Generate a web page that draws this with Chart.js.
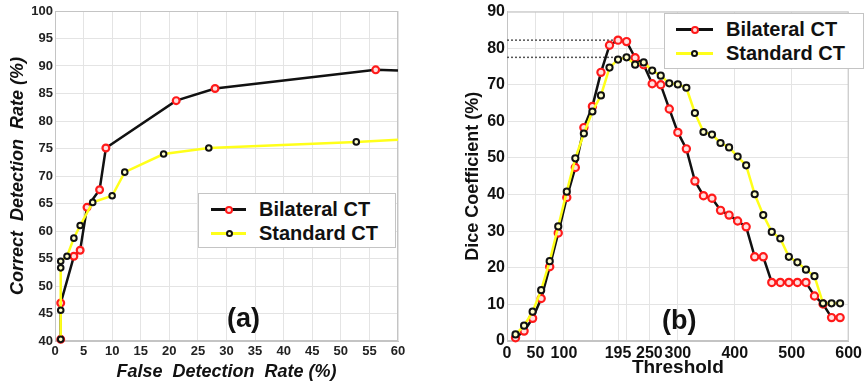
<!DOCTYPE html>
<html>
<head>
<meta charset="utf-8">
<script src="https://cdn.jsdelivr.net/npm/chart.js@4"></script>
<style>
  body { margin: 0; background: #fff; font-family: "Liberation Sans", Arial, sans-serif; }
  #wrap { position: relative; width: 865px; height: 386px; overflow: hidden; }
  canvas { position: absolute; top: 0; }
  #chartA { left: 0; }
  #chartB { left: 430px; }
  .legend { position: absolute; background: #fff; border: 1px solid #c4c4c4; box-sizing: border-box; }
  .item { position: absolute; height: 24px; line-height: 24px; font-size: 20px; font-weight: bold; color: #111; white-space: nowrap; }
  .sample { position: absolute; height: 3px; }
  .dot { position: absolute; border-radius: 50%; box-sizing: border-box; }
  .tag { position: absolute; font-weight: bold; color: #111; line-height: 1; }
</style>
</head>
<body>
<div id="wrap">
  <canvas id="chartA" width="430" height="386"></canvas>
  <canvas id="chartB" width="435" height="386"></canvas>

  <div class="legend" style="left:198px;top:193px;width:198px;height:55px">
    <div class="sample" style="left:12px;top:14px;width:35px;background:#111"></div>
    <div class="dot" style="left:26px;top:11.5px;width:8px;height:8px;border:2px solid #ff1a1a;background:#ffe0e0"></div>
    <div class="item" style="left:60px;top:3px">Bilateral CT</div>
    <div class="sample" style="left:12px;top:38px;width:35px;background:#ffff1a"></div>
    <div class="dot" style="left:26.5px;top:36px;width:7px;height:7px;border:2px solid #111;background:#ffffcc"></div>
    <div class="item" style="left:60px;top:27px">Standard CT</div>
  </div>
  <div class="tag" style="left:227px;top:305px;font-size:27px">(a)</div>

  <div class="legend" style="left:664px;top:13px;width:200px;height:56px">
    <div class="sample" style="left:11px;top:14px;width:37px;background:#111"></div>
    <div class="dot" style="left:25.5px;top:11.5px;width:8px;height:8px;border:2px solid #ff1a1a;background:#ffe0e0"></div>
    <div class="item" style="left:61px;top:3px">Bilateral CT</div>
    <div class="sample" style="left:11px;top:38px;width:37px;background:#ffff1a"></div>
    <div class="dot" style="left:26px;top:36px;width:7px;height:7px;border:2px solid #111;background:#ffffcc"></div>
    <div class="item" style="left:61px;top:27px">Standard CT</div>
  </div>
  <div class="tag" style="left:662px;top:307px;font-size:27px">(b)</div>
</div>

<script>
// (a) correct detection rate against false detection rate
const bilateralFalseRate = [1, 1, 3.3, 4.4, 5.6, 7.8, 8.9, 21.2, 28.0, 56.1, 60];
const bilateralCorrectRate = [40.3, 46.9, 55.4, 56.5, 64.3, 67.5, 75.1, 83.7, 85.9, 89.3, 89.2];
const standardFalseRate = [1, 1, 1, 1, 2.1, 3.3, 4.4, 6.6, 10.0, 12.2, 19.0, 26.9, 52.7, 60];
const standardCorrectRate = [40.3, 45.6, 53.3, 54.5, 55.4, 58.7, 61.0, 65.2, 66.4, 70.7, 74.0, 75.1, 76.2, 76.6];

// (b) dice coefficient against threshold
const thresholds = [15, 30, 45, 60, 75, 90, 105, 120, 135, 150, 165, 180, 195, 210, 225, 240, 255, 270, 285, 300,
                    315, 330, 345, 360, 375, 390, 405, 420, 435, 450, 465, 480, 495, 510, 525, 540, 555, 570, 585];
const bilateralDice = [0.9, 2.7, 6.2, 11.6, 20.3, 29.5, 39.2, 47.4, 58.3, 64.1, 73.4, 80.8, 82.2, 81.8, 77.4, 75.5, 70.3, 70.0, 63.4, 57.0,
                       52.5, 43.7, 39.7, 39.0, 35.7, 34.4, 32.8, 31.2, 23.0, 23.0, 16.0, 16.0, 16.0, 16.0, 16.0, 12.3, 10.1, 6.4, 6.4];
const standardDice = [1.8, 4.2, 8.0, 13.9, 21.8, 31.3, 40.8, 49.9, 56.7, 62.7, 67.1, 74.7, 76.9, 77.5, 75.5, 76.1, 73.9, 72.5, 70.4, 70.1,
                      69.2, 62.3, 57.1, 56.4, 54.1, 52.9, 50.4, 48.0, 40.1, 34.4, 29.8, 28.0, 23.0, 21.5, 19.5, 17.7, 10.3, 10.3, 10.3];
const thresholdTicks = [0, 50, 100, 150, 195, 210, 250, 300, 400, 500, 600];
const hiddenThresholdLabels = [150, 210];

const FONT = '"Liberation Sans", Arial, sans-serif';
const GRID = '#e4e4e4';
const FRAME = '#c4c4c4';

const toPoints = (xs, ys) => xs.map((x, i) => ({ x: x, y: ys[i] }));

// light box round the plot area, like the matlab axes
const plotFrame = {
    id: 'plotFrame',
    beforeDatasetsDraw(chart) {
        const { ctx, chartArea: a } = chart;
        ctx.save();
        ctx.strokeStyle = FRAME;
        ctx.lineWidth = 1;
        ctx.strokeRect(a.left + 0.5, a.top + 0.5, a.right - a.left - 1, a.bottom - a.top - 1);
        ctx.restore();
    }
};

const bilateralStyle = {
    borderColor: '#111', borderWidth: 2.5,
    pointBorderColor: '#ff1a1a', pointBackgroundColor: '#ffe0e0', pointBorderWidth: 2.2,
    pointRadius: 3.4, clip: false, order: 2
};
const standardStyle = {
    borderColor: '#ffff1a', borderWidth: 2.5,
    pointBorderColor: '#111', pointBackgroundColor: '#ffffcc', pointBorderWidth: 2,
    pointRadius: 3, clip: false, order: 1
};

// the curves run on past 60%, so no marker on the edge point
const edgeRadius = r => ctx => (ctx.raw && ctx.raw.x >= 60 ? 0 : r);

new Chart(document.getElementById('chartA'), {
    type: 'line',
    data: {
        datasets: [
            { ...bilateralStyle, label: 'Bilateral CT', data: toPoints(bilateralFalseRate, bilateralCorrectRate), pointRadius: edgeRadius(3.4) },
            { ...standardStyle, label: 'Standard CT', data: toPoints(standardFalseRate, standardCorrectRate), pointRadius: edgeRadius(2.8) }
        ]
    },
    options: {
        responsive: false,
        animation: false,
        layout: { padding: { top: 11, right: 32, left: 0, bottom: 0 } },
        plugins: { legend: { display: false }, tooltip: { enabled: false } },
        scales: {
            x: {
                type: 'linear', min: 0, max: 60,
                ticks: { stepSize: 5, padding: 3, maxRotation: 0, color: '#222', font: { family: FONT, size: 13, weight: 'bold' } },
                grid: { color: GRID, drawTicks: false },
                border: { color: FRAME },
                title: { display: true, text: 'False  Detection  Rate (%)', color: '#111',
                         font: { family: FONT, size: 18, weight: 'bold', style: 'italic' }, padding: { top: 0, bottom: 3 } },
                afterFit: s => { s.height = 45; }
            },
            y: {
                min: 40, max: 100,
                ticks: { stepSize: 5, padding: 2, color: '#222', font: { family: FONT, size: 13, weight: 'bold' } },
                grid: { color: GRID, drawTicks: false },
                border: { color: FRAME },
                title: { display: true, text: 'Correct  Detection  Rate (%)', color: '#111',
                         font: { family: FONT, size: 18, weight: 'bold', style: 'italic' }, padding: { top: 7, bottom: 0 } },
                afterFit: s => { s.width = 55; }
            }
        }
    },
    plugins: [plotFrame]
});

// peaks marked with dotted guides back to the axis
const bilPeak = Math.max(...bilateralDice);
const stdPeak = Math.max(...standardDice);
const bilPeakAt = thresholds[bilateralDice.indexOf(bilPeak)];
const stdPeakAt = thresholds[standardDice.indexOf(stdPeak)];
const guide = { borderColor: '#555', borderWidth: 1.5, borderDash: [2, 2], pointRadius: 0, order: 3 };

new Chart(document.getElementById('chartB'), {
    type: 'line',
    data: {
        datasets: [
            { ...guide, data: [{ x: 0, y: bilPeak }, { x: bilPeakAt, y: bilPeak }] },
            { ...guide, data: [{ x: 0, y: stdPeak }, { x: stdPeakAt, y: stdPeak }] },
            { ...bilateralStyle, label: 'Bilateral CT', data: toPoints(thresholds, bilateralDice), pointRadius: 3.6 },
            { ...standardStyle, label: 'Standard CT', data: toPoints(thresholds, standardDice), pointRadius: 3.1 }
        ]
    },
    options: {
        responsive: false,
        animation: false,
        layout: { padding: { top: 11, right: 14, left: 0, bottom: 0 } },
        plugins: { legend: { display: false }, tooltip: { enabled: false } },
        scales: {
            x: {
                type: 'linear', min: 0, max: 600,
                afterBuildTicks: s => { s.ticks = thresholdTicks.map(v => ({ value: v })); },
                ticks: { autoSkip: false, padding: 3, maxRotation: 0, color: '#111',
                         font: { family: FONT, size: 16, weight: 'bold' },
                         callback: v => (hiddenThresholdLabels.includes(v) ? '' : v) },
                grid: { color: GRID, drawTicks: false },
                border: { color: FRAME },
                title: { display: true, text: 'Threshold', color: '#111',
                         font: { family: FONT, size: 19, weight: 'bold' }, padding: { top: 0, bottom: 7 } },
                afterFit: s => { s.height = 45; }
            },
            y: {
                min: 0, max: 90,
                ticks: { stepSize: 10, padding: 2, color: '#111', font: { family: FONT, size: 16, weight: 'bold' } },
                grid: { color: GRID, drawTicks: false },
                border: { color: FRAME },
                title: { display: true, text: 'Dice Coefficient (%)', color: '#111',
                         font: { family: FONT, size: 18, weight: 'bold' }, padding: { top: 32, bottom: 0 } },
                afterFit: s => { s.width = 77; }
            }
        }
    },
    plugins: [plotFrame]
});
</script>
</body>
</html>
